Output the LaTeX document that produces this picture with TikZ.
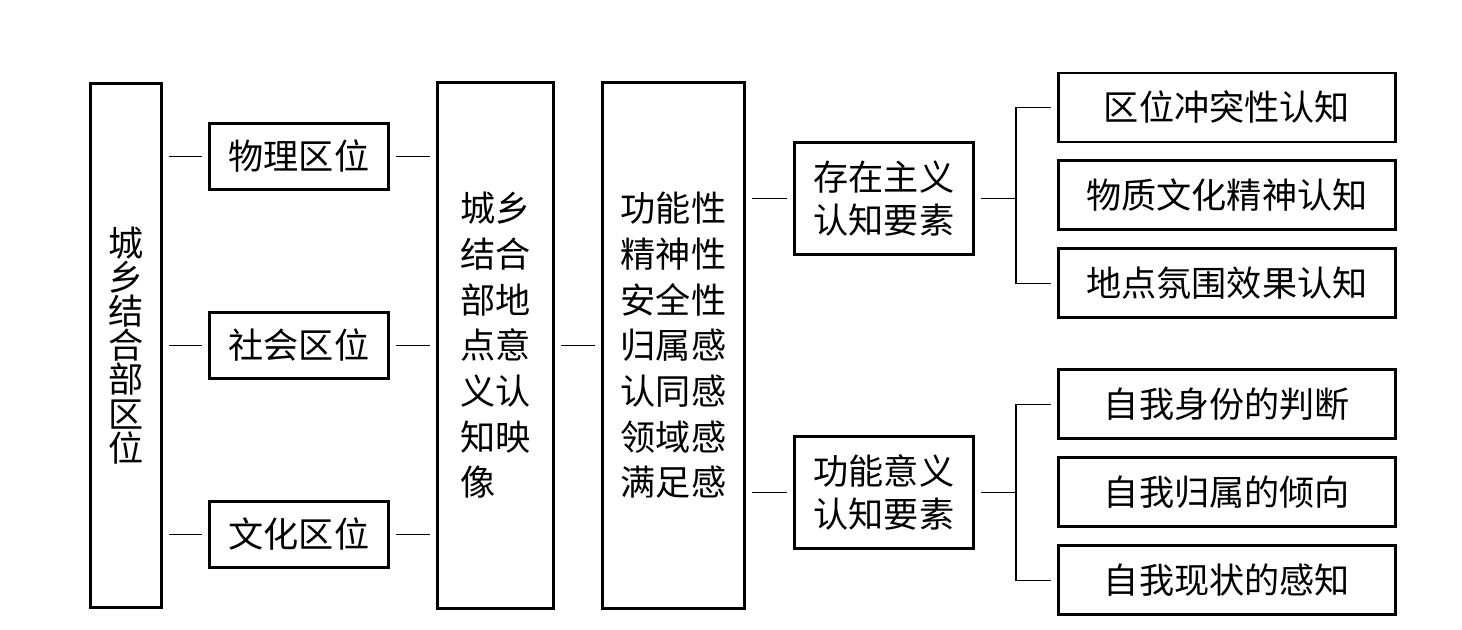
\documentclass[tikz,border=0pt]{standalone}
\usepackage{fontspec}
\newfontfamily\cjk{Noto Sans CJK SC}
\usetikzlibrary{positioning}

\begin{document}
\begin{tikzpicture}[
  node distance=12mm and 4.6mm,
  box/.style={draw, line width=0.85pt, align=center, inner sep=0pt,
              font=\cjk\fontsize{10pt}{13pt}\selectfont},
  col/.style={box, minimum height=52.6mm},
  loc/.style={box, minimum width=17.9mm, minimum height=6.6mm},
  elem/.style={box, minimum width=17.9mm, minimum height=11.2mm,
               font=\cjk\fontsize{10pt}{12pt}\selectfont},
  leaf/.style={box, minimum width=33.7mm, minimum height=6.9mm},
  ln/.style={line width=0.45pt, shorten <=0.6mm, shorten >=0.6mm}
]
\useasboundingbox (0,0) rectangle (146.2mm,-63mm);
% columns
\node[col, minimum width=7.1mm, minimum height=52.4mm,
      font=\cjk\fontsize{10pt}{9.7pt}\selectfont] (area) at (12.6mm,-34.55mm)
  {城\\乡\\结\\合\\部\\区\\位};
\node[loc, right=4.5mm of area] (soc) {社会区位};
\node[loc, above=12mm of soc] (phys) {物理区位};
\node[loc, below=12mm of soc] (cult) {文化区位};
\node[col, minimum width=11.6mm, align=left, right=4.6mm of soc] (map)
  {城乡\\结合\\部地\\点意\\义认\\知映\\像};
\node[col, minimum width=14.2mm, right=4.6mm of map] (attr)
  {功能性\\精神性\\安全性\\归属感\\认同感\\领域感\\满足感};
% cognition elements
\node[elem, right=4.7mm of attr.north east, anchor=north west, yshift=-6mm] (exist)
  {存在主义\\认知要素};
\node[elem, below=17.9mm of exist] (func) {功能意义\\认知要素};
\node[leaf, right=8.2mm of exist, yshift=0.3mm] (r2) {物质文化精神认知};
\node[leaf, above=1.6mm of r2] (r1) {区位冲突性认知};
\node[leaf, below=1.6mm of r2] (r3) {地点氛围效果认知};
\node[leaf, right=8.2mm of func] (r5) {自我归属的倾向};
\node[leaf, above=1.6mm of r5] (r4) {自我身份的判断};
\node[leaf, below=1.6mm of r5] (r6) {自我现状的感知};
\coordinate[right=4.1mm of exist.east] (j1);
\coordinate[right=4.1mm of func.east] (j2);
% connectors
\draw[ln] (area.east |- phys.west) -- (phys.west);
\draw[ln] (area.east) -- (soc.west);
\draw[ln] (area.east |- cult.west) -- (cult.west);
\draw[ln] (phys.east) -- (map.west |- phys.east);
\draw[ln] (soc.east) -- (map.west);
\draw[ln] (cult.east) -- (map.west |- cult.east);
\draw[ln] (map.east) -- (attr.west);
\draw[ln] (attr.east |- exist.west) -- (exist.west);
\draw[ln] (attr.east |- func.west) -- (func.west);
\draw[ln, shorten >=0pt] (exist.east) -- (j1);
\draw[ln] (r1.west) -| (j1) |- (r3.west);
\draw[ln, shorten >=0pt] (func.east) -- (j2);
\draw[ln] (r4.west) -| (j2) |- (r6.west);
\end{tikzpicture}
\end{document}
